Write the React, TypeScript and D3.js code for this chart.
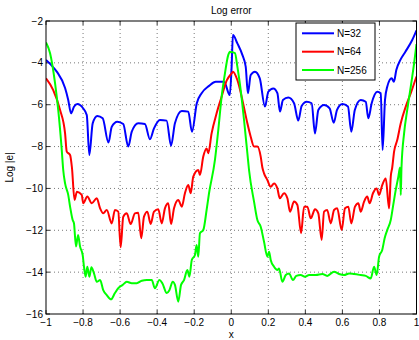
import React from "react";
import * as d3 from "d3";

const xTicks = [-1, -0.8, -0.6, -0.4, -0.2, 0, 0.2, 0.4, 0.6, 0.8, 1];
const yTicks = [-2, -4, -6, -8, -10, -12, -14, -16];
const seriesNames = ["N=32", "N=64", "N=256"];
const seriesColors = ["#0000ff", "#ff0000", "#00ff00"];

const n32: [number, number][] = [
  [-1, -3.86], [-0.978, -4.05], [-0.942, -4.42], [-0.897, -5.2], [-0.88, -5.77], [-0.865, -6.41],
  [-0.849, -6.1], [-0.83, -5.97], [-0.8, -6.17], [-0.78, -6.49], [-0.766, -8.4], [-0.748, -6.89],
  [-0.723, -6.54], [-0.694, -6.65], [-0.663, -7.81], [-0.645, -7.05], [-0.615, -6.81], [-0.583, -6.92],
  [-0.556, -8.0], [-0.537, -7.29], [-0.502, -6.89], [-0.466, -6.92], [-0.439, -7.65], [-0.417, -7.13],
  [-0.385, -6.73], [-0.349, -6.76], [-0.325, -7.96], [-0.304, -6.89], [-0.267, -6.3], [-0.232, -6.33],
  [-0.212, -7.29], [-0.186, -5.93], [-0.16, -5.45], [-0.12, -5.1], [-0.084, -4.9], [-0.039, -4.9],
  [-0.008, -5.54], [0.002, -4.18], [0.009, -2.67], [0.033, -3.07], [0.06, -3.62], [0.078, -4.18],
  [0.09, -5.45], [0.105, -4.58], [0.128, -4.42], [0.154, -4.74], [0.182, -6.09], [0.2, -5.38],
  [0.227, -5.22], [0.249, -5.45], [0.263, -6.33], [0.279, -5.77], [0.308, -5.66], [0.339, -5.93],
  [0.362, -6.76], [0.38, -6.06], [0.407, -5.86], [0.434, -5.93], [0.452, -7.37], [0.47, -6.25],
  [0.501, -6.01], [0.531, -6.17], [0.553, -6.86], [0.571, -6.25], [0.6, -5.97], [0.63, -6.09],
  [0.648, -7.29], [0.667, -6.25], [0.699, -5.77], [0.726, -5.86], [0.74, -6.65], [0.758, -5.93],
  [0.788, -5.38], [0.807, -5.45], [0.817, -8.16], [0.83, -5.77], [0.842, -5.14], [0.866, -4.74],
  [0.878, -4.9], [0.891, -4.34], [0.913, -3.86], [0.94, -3.47], [0.977, -2.91], [1.0, -2.45],
];

const n64: [number, number][] = [
  [-1, -4.74], [-0.961, -5.3], [-0.924, -6.25], [-0.897, -7.37], [-0.888, -8.24], [-0.87, -8.4],
  [-0.86, -9.0], [-0.846, -10.55], [-0.833, -10.16], [-0.807, -10.31], [-0.799, -10.71], [-0.777, -10.39],
  [-0.753, -10.71], [-0.726, -10.47], [-0.708, -10.95], [-0.691, -11.19], [-0.672, -11.03], [-0.645, -11.67],
  [-0.628, -11.03], [-0.61, -11.11], [-0.597, -12.81], [-0.583, -11.35], [-0.564, -11.19], [-0.543, -11.7],
  [-0.52, -11.19], [-0.502, -11.16], [-0.486, -12.38], [-0.471, -11.35], [-0.453, -11.11], [-0.435, -11.7],
  [-0.417, -11.11], [-0.394, -11.0], [-0.375, -11.67], [-0.358, -10.95], [-0.34, -10.71], [-0.325, -11.7],
  [-0.309, -10.95], [-0.286, -10.55], [-0.267, -10.87], [-0.25, -10.23], [-0.232, -9.84], [-0.219, -10.23],
  [-0.205, -9.44], [-0.178, -9.12], [-0.169, -9.36], [-0.151, -8.48], [-0.133, -8.09], [-0.124, -8.32],
  [-0.106, -7.37], [-0.079, -6.41], [-0.052, -5.62], [-0.025, -4.85], [0.002, -4.5], [0.009, -4.42],
  [0.033, -4.82], [0.06, -5.77], [0.087, -6.89], [0.105, -7.53], [0.123, -8.0], [0.141, -8.0],
  [0.159, -8.48], [0.168, -9.0], [0.177, -9.28], [0.195, -9.6], [0.213, -9.92], [0.231, -9.76],
  [0.249, -10.0], [0.262, -10.47], [0.285, -10.23], [0.303, -10.47], [0.317, -11.11], [0.339, -10.63],
  [0.357, -10.79], [0.377, -12.14], [0.393, -10.87], [0.411, -10.87], [0.429, -11.43], [0.452, -11.0],
  [0.47, -11.19], [0.488, -12.46], [0.501, -11.11], [0.518, -11.03], [0.537, -11.67], [0.555, -11.03],
  [0.572, -10.95], [0.596, -11.99], [0.614, -10.95], [0.632, -10.87], [0.648, -11.67], [0.668, -10.87],
  [0.686, -10.71], [0.699, -11.11], [0.717, -10.63], [0.734, -10.39], [0.747, -10.71], [0.765, -10.23],
  [0.785, -10.0], [0.798, -10.31], [0.815, -9.84], [0.834, -9.52], [0.852, -10.95], [0.861, -9.44],
  [0.869, -9.0], [0.879, -8.24], [0.896, -7.69], [0.915, -6.89], [0.942, -6.09], [0.969, -5.45],
  [1.0, -4.65],
];

const n256: [number, number][] = [
  [-1, -3.03], [-0.978, -3.54], [-0.951, -4.98], [-0.934, -6.25], [-0.915, -8.16], [-0.907, -9.12],
  [-0.897, -9.76], [-0.88, -10.31], [-0.87, -10.87], [-0.856, -11.51], [-0.849, -11.67], [-0.838, -12.78],
  [-0.827, -12.22], [-0.816, -12.78], [-0.802, -13.18], [-0.795, -13.74], [-0.786, -14.22], [-0.777, -13.74],
  [-0.766, -14.22], [-0.755, -13.77], [-0.741, -14.06], [-0.726, -14.46], [-0.708, -14.38], [-0.691, -14.86],
  [-0.672, -15.1], [-0.649, -15.3], [-0.628, -15.0], [-0.61, -14.77], [-0.586, -14.61], [-0.564, -14.46],
  [-0.537, -14.53], [-0.51, -14.53], [-0.483, -14.41], [-0.456, -14.38], [-0.429, -14.38], [-0.412, -14.77],
  [-0.388, -14.38], [-0.372, -14.53], [-0.348, -15.0], [-0.334, -14.86], [-0.316, -14.46], [-0.304, -14.61],
  [-0.286, -15.41], [-0.271, -14.61], [-0.255, -14.38], [-0.237, -13.9], [-0.226, -14.22], [-0.213, -13.42],
  [-0.196, -13.18], [-0.187, -12.7], [-0.178, -13.26], [-0.169, -12.14], [-0.151, -11.99], [-0.133, -11.03],
  [-0.12, -10.23], [-0.088, -8.64], [-0.07, -7.21], [-0.052, -5.62], [-0.034, -4.5], [-0.016, -3.62],
  [-0.007, -3.47], [0.02, -3.54], [0.033, -4.18], [0.051, -5.3], [0.069, -6.73], [0.087, -8.32],
  [0.096, -9.12], [0.123, -10.63], [0.141, -11.51], [0.159, -11.83], [0.177, -12.55], [0.195, -13.26],
  [0.204, -13.02], [0.213, -13.42], [0.231, -13.74], [0.249, -13.9], [0.258, -13.82], [0.276, -14.46],
  [0.294, -14.14], [0.312, -14.06], [0.333, -14.38], [0.351, -14.18], [0.375, -14.14], [0.398, -14.22],
  [0.42, -14.14], [0.456, -14.14], [0.492, -14.09], [0.518, -14.18], [0.555, -13.98], [0.582, -14.09],
  [0.609, -14.14], [0.636, -14.06], [0.663, -14.09], [0.699, -14.14], [0.726, -14.18], [0.753, -14.3],
  [0.771, -13.74], [0.785, -14.14], [0.798, -13.26], [0.815, -12.94], [0.828, -12.38], [0.842, -11.99],
  [0.861, -11.51], [0.873, -10.87], [0.888, -10.07], [0.902, -9.44], [0.911, -9.0], [0.915, -10.31],
  [0.919, -9.0], [0.933, -7.37], [0.95, -6.25], [0.969, -5.14], [0.987, -4.02], [1.0, -3.1],
];

const allSeries = [n32, n64, n256];

const W = 419;
const H = 340;
const L = 46;
const R = 416.5;
const T = 21;
const B = 314;
const FONT = "'Liberation Sans', Arial, Helvetica, sans-serif";

const fmt = (v: number) => {
  const s = d3.format("~g")(v);
  return s.replace("-", "\u2212");
};

export default function App() {
  const x = d3.scaleLinear().domain([-1, 1]).range([L, R]);
  const y = d3.scaleLinear().domain([-16, -2]).range([B, T]);
  const line = d3
    .line<[number, number]>()
    .x((d) => x(d[0]))
    .y((d) => y(d[1]))
    .curve(d3.curveMonotoneX);

  const legX = 296;
  const legY = 23;
  const legW = 79;
  const legH = 57;
  const rowY = [33.3, 51.7, 70];

  return (
    <svg
      width={W}
      height={H}
      style={{ position: "fixed", left: 0, top: 0, background: "#fff" }}
      fontFamily={FONT}
    >
      <rect x={0} y={0} width={W} height={H} fill="#fff" />
      <defs>
        <clipPath id="plotclip">
          <rect x={L} y={T} width={R - L} height={B - T} />
        </clipPath>
      </defs>
      {xTicks.slice(1, -1).map((t) => (
        <line key={"gx" + t} x1={x(t)} x2={x(t)} y1={T} y2={B} stroke="#555" strokeWidth={0.8} strokeDasharray="1,3" />
      ))}
      {yTicks.slice(1, -1).map((t) => (
        <line key={"gy" + t} x1={L} x2={R} y1={y(t)} y2={y(t)} stroke="#555" strokeWidth={0.8} strokeDasharray="1,3" />
      ))}
      {xTicks.map((t) => (
        <g key={"tx" + t}>
          <line x1={x(t)} x2={x(t)} y1={B} y2={B - 4} stroke="#000" strokeWidth={0.8} />
          <line x1={x(t)} x2={x(t)} y1={T} y2={T + 4} stroke="#000" strokeWidth={0.8} />
          <text x={x(t)} y={B + 12} fontSize={10} textAnchor="middle" fill="#000">
            {fmt(t)}
          </text>
        </g>
      ))}
      {yTicks.map((t) => (
        <g key={"ty" + t}>
          <line x1={L} x2={L + 4} y1={y(t)} y2={y(t)} stroke="#000" strokeWidth={0.8} />
          <line x1={R} x2={R - 4} y1={y(t)} y2={y(t)} stroke="#000" strokeWidth={0.8} />
          <text x={L - 3} y={y(t) + 3.5} fontSize={10} textAnchor="end" fill="#000">
            {fmt(t)}
          </text>
        </g>
      ))}
      <g clipPath="url(#plotclip)">
        {allSeries.map((s, i) => (
          <path
            key={"s" + i}
            d={line(s) || ""}
            fill="none"
            stroke={seriesColors[i]}
            strokeWidth={2}
            strokeLinejoin="round"
          />
        ))}
      </g>
      <rect x={L} y={T} width={R - L} height={B - T} fill="none" stroke="#000" strokeWidth={1} />
      <rect x={legX} y={legY} width={legW} height={legH} fill="#fff" stroke="#000" strokeWidth={1} />
      {seriesNames.map((n, i) => (
        <g key={"l" + i}>
          <line x1={legX + 6} x2={legX + 38} y1={rowY[i]} y2={rowY[i]} stroke={seriesColors[i]} strokeWidth={2} />
          <text x={legX + 41} y={rowY[i] + 3.5} fontSize={10} fill="#000">
            {n}
          </text>
        </g>
      ))}
      <text x={(L + R) / 2} y={14} fontSize={10} textAnchor="middle" fill="#000">
        Log error
      </text>
      <text x={(L + R) / 2} y={338} fontSize={10} textAnchor="middle" fill="#000">
        x
      </text>
      <text
        transform={`translate(13,${(T + B) / 2}) rotate(-90)`}
        fontSize={10}
        textAnchor="middle"
        fill="#000"
      >
        Log |e|
      </text>
    </svg>
  );
}
